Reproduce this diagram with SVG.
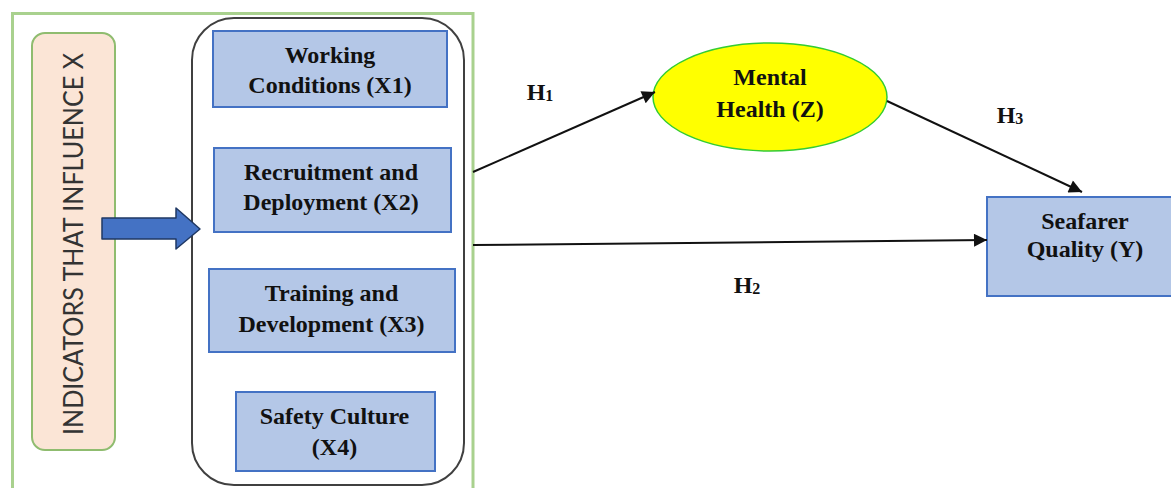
<svg xmlns="http://www.w3.org/2000/svg" width="1171" height="488" viewBox="0 0 1171 488">
<style>
.box{fill:#b4c7e7;stroke:#4472c4;stroke-width:2}
.lbl{font-family:"Liberation Serif","Times New Roman",serif;font-weight:bold;font-size:24px;fill:#111;text-anchor:middle}
.conn{stroke:#111;stroke-width:2;fill:none}
</style>
<defs>
<marker id="ah" viewBox="0 0 10 10" refX="10" refY="5" markerWidth="8.5" markerHeight="6.5" markerUnits="strokeWidth" orient="auto">
<path d="M0,0 L10,5 L0,10 z" fill="#111"/>
</marker>
</defs>
<rect width="1171" height="488" fill="#fff"/>
<g id="frame">
<rect x="12.5" y="13.5" width="460.5" height="490" fill="none" stroke="#a9d18e" stroke-width="3"/>
</g>
<g id="indicators">
<rect x="32" y="33" width="83" height="417" rx="13" fill="#fbe5d6" stroke="#8fbc6f" stroke-width="2"/>
<text transform="translate(83,244) rotate(-90)" x="0" y="0" text-anchor="middle" font-family="Lato,'Liberation Sans',sans-serif" font-size="26" fill="#333" textLength="382" lengthAdjust="spacingAndGlyphs">INDICATORS THAT INFLUENCE X</text>
</g>
<g id="group-x">
<rect x="192" y="18" width="272" height="467" rx="42" fill="#fff" stroke="#404040" stroke-width="2"/>
</g>
<g id="blockarrow">
<path d="M102,218 L176,218 L176,208 L200,229 L176,249 L176,239 L102,239 Z" fill="#4472c4" stroke="#1f3864" stroke-width="1.5" stroke-linejoin="round"/>
</g>
<g id="x1">
<rect class="box" x="213" y="31" width="234" height="76"/>
<text class="lbl" x="330" y="63">Working</text>
<text class="lbl" x="330" y="93">Conditions (X1)</text>
</g>
<g id="x2">
<rect class="box" x="214" y="148" width="237" height="84"/>
<text class="lbl" x="331" y="180">Recruitment and</text>
<text class="lbl" x="331" y="210">Deployment (X2)</text>
</g>
<g id="x3">
<rect class="box" x="209" y="269" width="246" height="83"/>
<text class="lbl" x="331.5" y="301">Training and</text>
<text class="lbl" x="331.5" y="332">Development (X3)</text>
</g>
<g id="x4">
<rect class="box" x="236" y="392" width="199" height="79"/>
<text class="lbl" x="334.5" y="424">Safety Culture</text>
<text class="lbl" x="334.5" y="455">(X4)</text>
</g>
<g id="mental">
<ellipse cx="770" cy="97" rx="117" ry="54" fill="#ffff00" stroke="#33cc33" stroke-width="1.5"/>
<text class="lbl" x="770" y="85">Mental</text>
<text class="lbl" x="770" y="117">Health (Z)</text>
</g>
<g id="seafarer">
<rect class="box" x="987" y="197" width="190" height="99"/>
<text class="lbl" x="1085" y="229">Seafarer</text>
<text class="lbl" x="1085" y="257">Quality (Y)</text>
</g>
<g id="connectors">
<line class="conn" x1="473" y1="172" x2="655" y2="92" marker-end="url(#ah)"/>
<line class="conn" x1="473" y1="245" x2="987" y2="240" marker-end="url(#ah)"/>
<line class="conn" x1="887" y1="101" x2="1082" y2="192" marker-end="url(#ah)"/>
<text class="lbl" x="540" y="100" text-anchor="start">H<tspan font-size="16" dy="1">1</tspan></text>
<text class="lbl" x="747" y="293" text-anchor="start">H<tspan font-size="16" dy="1">2</tspan></text>
<text class="lbl" x="1010" y="123" text-anchor="start">H<tspan font-size="16" dy="1">3</tspan></text>
</g>
</svg>
